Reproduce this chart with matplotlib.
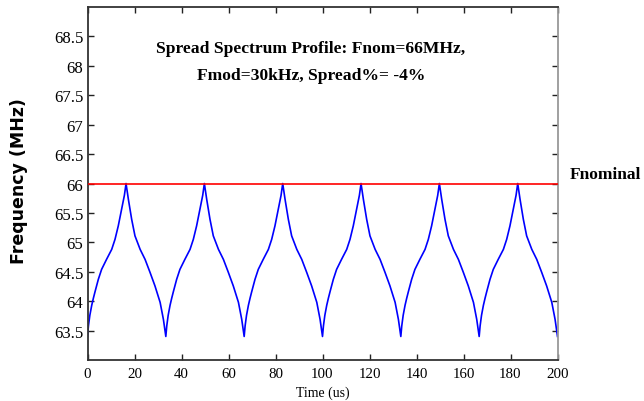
import matplotlib
matplotlib.use("Agg")
import matplotlib.pyplot as plt

# ---- data ----
# one modulation period (Hershey-kiss profile), offsets in us and frequency in MHz
cycle_offsets_us = [0.0, 0.4, 1.0, 1.8, 2.5, 3.2, 4.6, 6.0, 8.1, 10.3, 11.7, 13.1,
                    14.5, 15.7, 16.4, 17.4, 18.8, 20.2, 22.4, 24.5, 26.6, 28.7,
                    30.9, 32.3, 33.0]
cycle_freqs_mhz = [63.40, 63.58, 63.76, 63.93, 64.05, 64.16, 64.37, 64.54, 64.71, 64.88,
                   65.05, 65.28, 65.56, 65.80, 66.00, 65.73, 65.39, 65.11, 64.88, 64.71,
                   64.49, 64.26, 63.98, 63.69, 63.50]
cycle_starts_us = [0.0, 33.33, 66.67, 100.0, 133.33, 166.67]
end_time_us = 200.0
end_freq_mhz = 63.40
f_nominal = 66.0

x_ticks = [0, 20, 40, 60, 80, 100, 120, 140, 160, 180, 200]
y_ticks = [63.5, 64, 64.5, 65, 65.5, 66, 66.5, 67, 67.5, 68, 68.5]
y_tick_labels = ["63.5", "64", "64.5", "65", "65.5", "66", "66.5", "67", "67.5", "68", "68.5"]

time_us = []
freq_mhz = []
for s in cycle_starts_us:
    for o, f in zip(cycle_offsets_us, cycle_freqs_mhz):
        time_us.append(s + o)
        freq_mhz.append(f)
time_us.append(end_time_us)
freq_mhz.append(end_freq_mhz)

# ---- figure ----
fig = plt.figure(figsize=(6.44, 4.02), dpi=100)
ax = fig.add_axes([87.5 / 644, 1 - 361 / 402, (557.5 - 87.5) / 644, (361 - 8) / 402])

ax.plot(time_us, freq_mhz, color="#0000ff", lw=1.2, zorder=2)
ax.plot([0, 200], [f_nominal, f_nominal], color="#ff0000", lw=1.2, zorder=3)

ax.set_xlim(0, 200)
ax.set_ylim(63, 69)
ax.set_xticks(x_ticks)
ax.set_yticks(y_ticks)
ax.set_yticklabels(y_tick_labels)

serif = ["Liberation Serif", "DejaVu Serif"]
for lab in ax.get_xticklabels():
    lab.set_family(serif)
    lab.set_fontsize(10.7)
for lab in ax.get_yticklabels():
    lab.set_family(serif)
    lab.set_fontsize(12)

ax.tick_params(direction="in", length=4, width=1, top=True, right=True, colors="#222222")
ax.tick_params(axis="x", pad=5)
ax.tick_params(axis="y", pad=3)
for lab in ax.get_xticklabels() + ax.get_yticklabels():
    lab.set_color("black")

for side in ["left", "bottom", "top"]:
    ax.spines[side].set_color("#333333")
    ax.spines[side].set_linewidth(1.3)
ax.spines["right"].set_color("#999999")
ax.spines["right"].set_linewidth(1.3)

ax.set_xlabel("Time (us)", family=serif, fontsize=10, labelpad=4)
fig.text(19 / 644, 1 - 181 / 402, "Frequency (MHz)", rotation=90, ha="center", va="center",
         family="DejaVu Sans", fontweight="bold", fontsize=12.5)

ax.text(95.1, 68.23, "Spread Spectrum Profile: Fnom=66MHz,",
        ha="center", va="baseline", family=serif, fontweight="bold", fontsize=12.6)
ax.text(95.1, 67.78, "Fmod=30kHz, Spread%= -4%",
        ha="center", va="baseline", family=serif, fontweight="bold", fontsize=12.6)

fig.text(570 / 644, 1 - 179.3 / 402, "Fnominal", ha="left", va="baseline",
         family=serif, fontweight="bold", fontsize=12.5)

fig.savefig("out.png", dpi=100)
